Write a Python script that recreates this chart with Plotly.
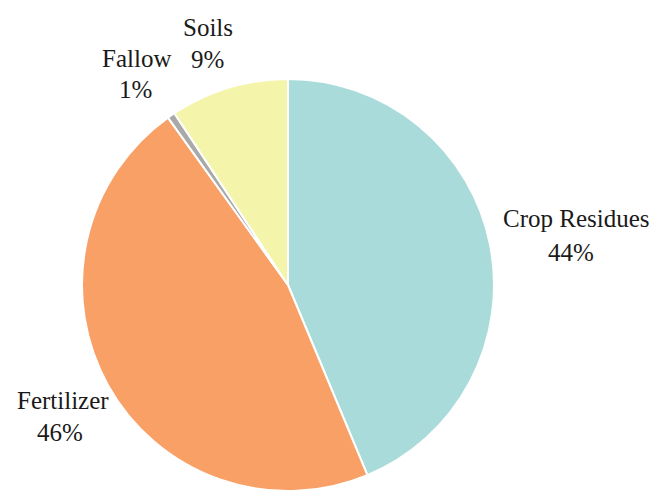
import math
import plotly.graph_objects as go

labels = ["Crop Residues", "Fertilizer", "Fallow", "Soils"]
values = [43.7, 46.4, 0.6, 9.3]
colors = ["#a8dbd9", "#f8a066", "#a9a9a9", "#f4f4ab"]

FONT = "Liberation Serif, Times New Roman, serif"
FONT_SIZE = 25
TEXT_COLOR = "#1a1a1a"

W, H = 656, 491
MARGIN = dict(l=0, r=80, t=79, b=0)

# label offsets (px) from each slice's mid-angle point on the rim:
# (name dx, name dy, pct dx, pct dy), dy measured downward
label_offsets = [
    (87, -26, 81, 8),
    (-45, 15, -48, 47),
    (-35, -57, -36, -26),
    (-21, -60, -21, -28),
]

fig = go.Figure(go.Pie(
    labels=labels,
    values=values,
    sort=False,
    direction="clockwise",
    rotation=0,
    marker=dict(colors=colors, line=dict(color="white", width=2)),
    textinfo="none",
    showlegend=False,
    hoverinfo="label+percent",
))

# pie geometry (as plotly lays it out in the plot area)
pw = W - MARGIN["l"] - MARGIN["r"]
ph = H - MARGIN["t"] - MARGIN["b"]
radius = min(pw, ph) / 2
cx = MARGIN["l"] + pw / 2
cy = MARGIN["t"] + ph / 2

total = sum(values)
cum = 0.0
for lab, val, off in zip(labels, values, label_offsets):
    frac_mid = (cum + val / 2) / total
    cum += val
    theta = 2 * math.pi * frac_mid
    px = cx + radius * math.sin(theta)
    py = cy - radius * math.cos(theta)
    xp = (px - MARGIN["l"]) / pw
    yp = (H - MARGIN["b"] - py) / ph
    pct = f"{round(100 * val / total):d}%"
    for text, dx, dy in ((lab, off[0], off[1]), (pct, off[2], off[3])):
        fig.add_annotation(
            x=xp, y=yp, xref="paper", yref="paper",
            text=text, showarrow=False,
            xanchor="center", yanchor="middle",
            xshift=dx, yshift=-dy,
            font=dict(family=FONT, size=FONT_SIZE, color=TEXT_COLOR),
        )

fig.update_layout(
    width=W,
    height=H,
    font=dict(family=FONT, size=FONT_SIZE, color=TEXT_COLOR),
    margin=MARGIN,
    paper_bgcolor="white",
    plot_bgcolor="white",
)

fig.write_html("out.html")
